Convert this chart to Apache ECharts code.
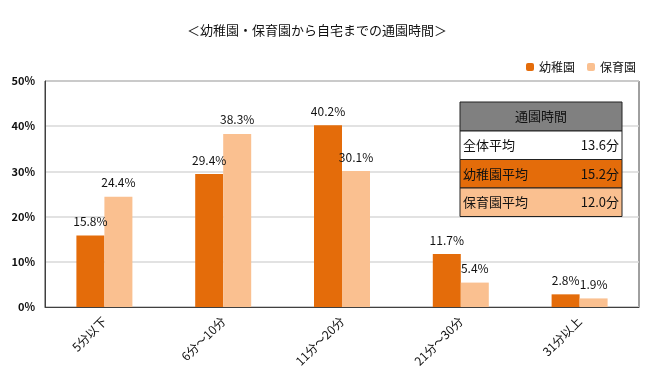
<!DOCTYPE html>
<html>
<head>
<meta charset="utf-8">
<script src="https://cdn.jsdelivr.net/npm/echarts@6/dist/echarts.min.js"></script>
<style>
  html, body { margin: 0; padding: 0; background: #fff; }
  #chart { width: 650px; height: 378px; }
</style>
</head>
<body>
<div id="chart"></div>
<script>
const categories = ['5分以下', '6分～10分', '11分～20分', '21分～30分', '31分以上']
const kindergarten = [15.8, 29.4, 40.2, 11.7, 2.8]
const nursery = [24.4, 38.3, 30.1, 5.4, 1.9]
const seriesNames = ['幼稚園', '保育園']
const tableTitle = '通園時間'
const tableLabels = ['全体平均', '幼稚園平均', '保育園平均']
const tableValues = ['13.6分', '15.2分', '12.0分']

const font = '"Noto Sans CJK JP", sans-serif'
const dark = '#E46C0A'
const light = '#FAC090'

// summary table drawn as graphic blocks, above the split lines
const tx = 460
const tw = 162
const rowFills = ['#ffffff', dark, light]
const table = [{
  type: 'rect',
  z: 100,
  shape: { x: tx, y: 102, width: tw, height: 29 },
  style: { fill: '#808080', stroke: '#222', lineWidth: 1 }
}, {
  type: 'text',
  z: 101,
  x: tx + tw / 2, y: 116.5,
  style: { text: tableTitle, font: '13px ' + font, fill: '#111', align: 'center', verticalAlign: 'middle' }
}]
for (let i = 0; i < tableLabels.length; i++) {
  const y = 131 + i * 28.5
  table.push({
    type: 'rect',
    z: 100,
    shape: { x: tx, y: y, width: tw, height: 28.5 },
    style: { fill: rowFills[i], stroke: '#222', lineWidth: 1 }
  })
  table.push({
    type: 'text',
    z: 101,
    x: tx + 3, y: y + 14.5,
    style: { text: tableLabels[i], font: '13px ' + font, fill: '#111', align: 'left', verticalAlign: 'middle' }
  })
  table.push({
    type: 'text',
    z: 101,
    x: tx + tw - 3, y: y + 14.5,
    style: { text: tableValues[i], font: '13px ' + font, fill: '#111', align: 'right', verticalAlign: 'middle' }
  })
}

const myChart = echarts.init(document.getElementById('chart'))
const option = {
  backgroundColor: '#fff',
  animation: false,
  textStyle: { fontFamily: font },
  title: {
    text: '＜幼稚園・保育園から自宅までの通園時間＞',
    left: 182,
    top: 19,
    textStyle: { fontSize: 13, fontWeight: 'normal', color: '#111', fontFamily: font }
  },
  legend: {
    data: seriesNames,
    right: 9,
    top: 56,
    itemWidth: 8,
    itemHeight: 8,
    itemGap: 12,
    textStyle: { fontSize: 12, color: '#111', fontFamily: font }
  },
  grid: {
    left: 45, right: 11, top: 81, bottom: 71,
    show: true, borderColor: '#404040', borderWidth: 1
  },
  xAxis: {
    type: 'category',
    data: categories,
    axisLine: { lineStyle: { color: '#404040' } },
    axisTick: { show: false },
    axisLabel: { rotate: 45, fontSize: 12, color: '#111', margin: 12, fontFamily: font }
  },
  yAxis: {
    type: 'value',
    min: 0, max: 50, interval: 10,
    axisLine: { show: true, lineStyle: { color: '#404040' } },
    splitLine: { lineStyle: { color: '#D9D9D9', width: 1.5 } },
    axisLabel: { formatter: '{value}%', fontSize: 11, color: '#111', fontWeight: 'bold', margin: 10, fontFamily: font }
  },
  series: [{
    name: seriesNames[0],
    type: 'bar',
    data: kindergarten,
    barWidth: 28,
    barGap: '0%',
    itemStyle: { color: dark },
    label: { show: true, position: 'top', distance: 8, formatter: '{c}%', fontSize: 12, color: '#111', fontFamily: font }
  }, {
    name: seriesNames[1],
    type: 'bar',
    data: nursery,
    barWidth: 28,
    itemStyle: { color: light },
    label: { show: true, position: 'top', distance: 8, formatter: '{c}%', fontSize: 12, color: '#111', fontFamily: font }
  }],
  graphic: table
}
myChart.setOption(option)
</script>
</body>
</html>
